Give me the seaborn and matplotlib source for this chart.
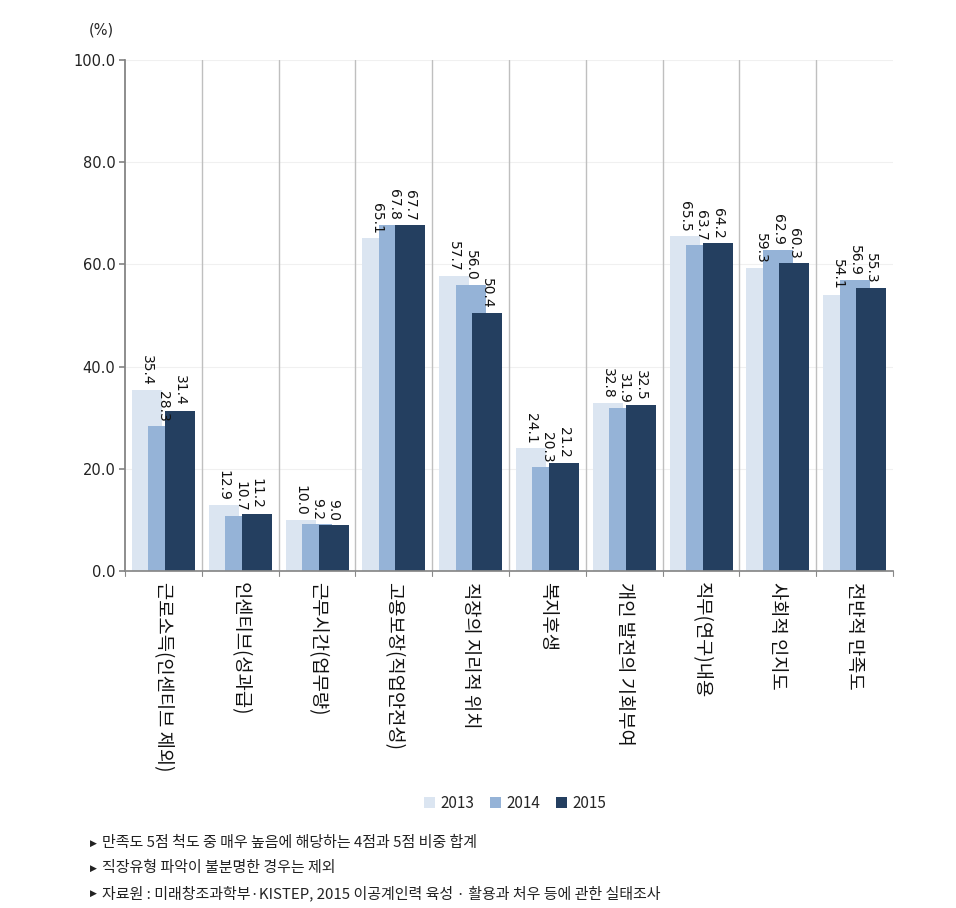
import numpy as np
import pandas as pd
import seaborn as sns
import matplotlib.pyplot as plt
from matplotlib.patches import Patch

categories = ["근로소득(인센티브 제외)", "인센티브(성과급)", "근무시간(업무량)",
              "고용보장(직업안전성)", "직장의 지리적 위치", "복지후생",
              "개인 발전의 기회부여", "직무(연구)내용", "사회적 인지도", "전반적 만족도"]
years = ["2013", "2014", "2015"]
v2013 = [35.4, 12.9, 10.0, 65.1, 57.7, 24.1, 32.8, 65.5, 59.3, 54.1]
v2014 = [28.3, 10.7, 9.2, 67.8, 56.0, 20.3, 31.9, 63.7, 62.9, 56.9]
v2015 = [31.4, 11.2, 9.0, 67.7, 50.4, 21.2, 32.5, 64.2, 60.3, 55.3]
yticks = [0, 20, 40, 60, 80, 100]
notes = ["만족도 5점 척도 중 매우 높음에 해당하는 4점과 5점 비중 합계",
         "직장유형 파악이 불분명한 경우는 제외",
         "자료원 : 미래창조과학부·KISTEP, 2015 이공계인력 육성 · 활용과 처우 등에 관한 실태조사"]

colors = ["#dbe5f1", "#95b3d7", "#243f60"]

df = pd.DataFrame({"category": categories, "2013": v2013, "2014": v2014, "2015": v2015})
df = df.melt(id_vars="category", var_name="year", value_name="value")

sns.set_theme(style="white")
plt.rcParams['font.family'] = ['Noto Sans CJK KR', 'DejaVu Sans']

fig = plt.figure(figsize=(9.56, 9.08), dpi=100)
ax = fig.add_axes([0.1308, 0.371, 0.8034, 0.563])

sns.barplot(data=df, x="category", y="value", hue="year", hue_order=years,
            palette=colors, width=0.645, saturation=1, errorbar=None,
            legend=False, ax=ax)

# overlapping bars like the original
for p in ax.patches:
    cx = p.get_x() + p.get_width() / 2
    p.set_width(0.39)
    p.set_x(cx - 0.195)
    p.set_linewidth(0)

step = 0.215
for i, vals in enumerate([v2013, v2014, v2015]):
    for j, v in enumerate(vals):
        ax.text(j + (i - 1) * step, v + 0.9, f"{v:.1f}", rotation=-90,
                ha="center", va="bottom", fontsize=10, family="DejaVu Sans",
                color="#111111")

ax.set_xlim(-0.5, len(categories) - 0.5)
ax.set_ylim(0, 100)
ax.set_yticks(yticks)
ax.set_yticklabels([f"{t:.1f}" for t in yticks], fontsize=10.5, family="DejaVu Sans",
                   color="#222222")
for t in yticks[1:]:
    ax.axhline(t, color="#f0f0f0", lw=0.8, zorder=0)
for k in range(1, len(categories)):
    ax.axvline(k - 0.5, color="#bfbfbf", lw=1, zorder=0.5)

ax.set_xticks(np.arange(len(categories)))
ax.set_xticklabels(categories, rotation=-90, fontsize=13.5, va="top", ha="center",
                   color="#111111")
ax.tick_params(axis="x", length=0, pad=8)
ax.tick_params(axis="y", length=4, color="#888888", direction="out", left=True, pad=3)
for k in range(len(categories) + 1):
    ax.plot([k - 0.5, k - 0.5], [0, -1.0], color="#888888", lw=0.8, clip_on=False)

ax.set_xlabel("")
ax.set_ylabel("")
for s in ["top", "right"]:
    ax.spines[s].set_visible(False)
ax.spines["left"].set_color("#808080")
ax.spines["bottom"].set_color("#888888")

fig.text(101 / 956, 1 - 30 / 908, "(%)", fontsize=10.5, ha="center", va="center",
         family="DejaVu Sans")

handles = [Patch(facecolor=c, edgecolor="none") for c in colors]
fig.legend(handles, years, loc="center", bbox_to_anchor=(0.539, 0.1156), ncol=3,
           frameon=False, fontsize=11, handlelength=0.7, handleheight=0.7,
           handletextpad=0.4, columnspacing=1.0)

for n, line in enumerate(notes):
    yy = 1 - (843 + n * 25) / 908
    fig.text(90 / 956, yy, "▶", fontsize=6.5, ha="left", va="center",
             color="#222222", family="DejaVu Sans")
    fig.text(102 / 956, yy, line, fontsize=10.8, ha="left", va="center",
             color="#222222")

fig.savefig("out.png", dpi=100)
